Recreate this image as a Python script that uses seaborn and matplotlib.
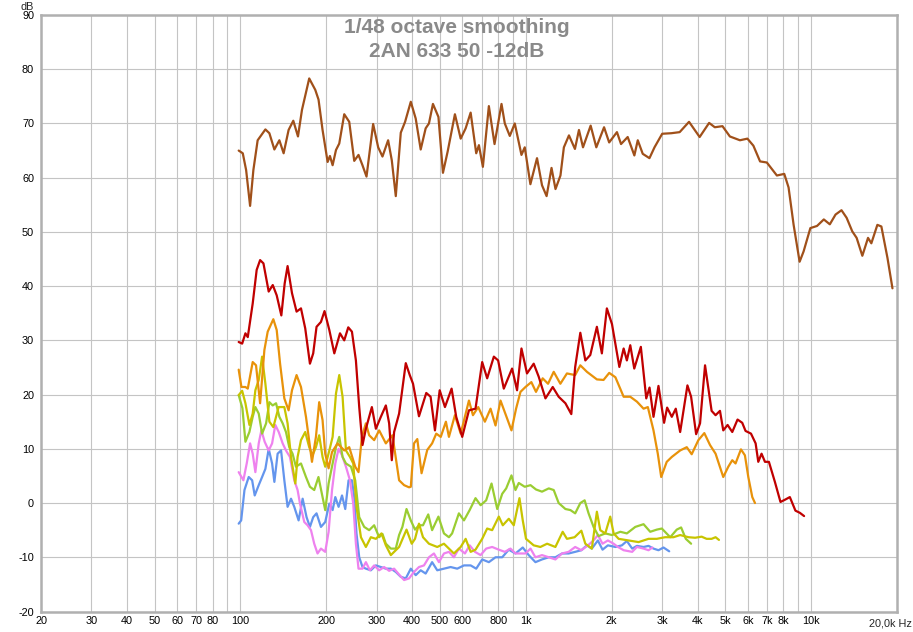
import matplotlib
matplotlib.use('Agg')
import matplotlib.pyplot as plt
import seaborn as sns
import pandas as pd
from matplotlib import font_manager
from matplotlib.ticker import NullLocator

# Traces (frequency in Hz, level in dB)
brown_hz = [98.6, 101.9, 104.7, 108.1, 111.0, 114.9, 122.3, 126.3, 131.5, 136.9, 141.7, 147.5, 153.2, 159.1,
            164.3, 174.2, 182.9, 187.8, 194.0, 202.1, 205.9, 210.4, 216.2, 222.0, 231.1, 240.6, 250.5, 259.3,
            267.7, 276.6, 291.8, 303.9, 314.6, 329.3, 339.2, 350.3, 364.7, 377.6, 395.4, 411.4, 428.3, 445.8,
            457.8, 472.8, 494.2, 512.6, 532.3, 564.5, 591.4, 615.6, 640.9, 670.4, 685.2, 707.4, 742.4, 777.2,
            822.2, 844.3, 879.0, 915.1, 965.8, 991.8, 1038, 1095, 1140, 1183, 1231, 1271, 1323, 1360, 1417,
            1487, 1536, 1587, 1688, 1767, 1881, 1960, 2087, 2157, 2276, 2402, 2469, 2570, 2713, 2826, 3007,
            3236, 3462, 3734, 4068, 4391, 4597, 4891, 5192, 5631, 5981, 6276, 6624, 6996, 7587, 8052, 8337,
            8684, 9114, 9412, 9940, 10490, 11080, 11630, 12180, 12780, 13320, 13940, 14440, 15120, 15830,
            16260, 17070, 17630, 18520, 19280]
brown_db = [65.0, 64.5, 61.4, 54.8, 61.4, 66.9, 68.9, 68.2, 65.2, 66.9, 64.5, 68.8, 70.5, 67.6, 72.5, 78.3,
            76.2, 74.4, 68.8, 62.9, 64.0, 62.3, 65.1, 66.3, 71.7, 70.3, 63.1, 64.2, 62.3, 60.2, 69.9, 65.6,
            63.9, 66.9, 63.2, 56.6, 68.3, 70.3, 74.0, 70.9, 65.2, 69.1, 70.0, 73.6, 71.2, 60.9, 64.8, 71.7,
            67.2, 69.1, 72.0, 64.5, 66.0, 62.0, 73.2, 66.2, 73.6, 70.0, 67.7, 70.0, 64.2, 65.6, 58.8, 63.6,
            58.6, 56.6, 61.8, 57.9, 60.4, 65.6, 67.8, 65.3, 68.8, 65.6, 69.6, 65.6, 69.3, 66.5, 68.4, 66.2,
            67.5, 64.1, 66.9, 64.4, 63.6, 65.6, 68.1, 68.2, 68.4, 70.3, 67.5, 70.1, 69.3, 69.5, 67.6, 66.9,
            67.2, 65.9, 63.0, 62.8, 60.4, 60.7, 58.2, 51.3, 44.5, 46.4, 50.7, 51.1, 52.3, 51.4, 53.2, 54.0,
            52.6, 50.1, 48.9, 45.6, 48.9, 47.9, 51.3, 51.0, 45.2, 39.6]

red_hz = [98.6, 101.4, 104.1, 106.1, 110.4, 114.0, 117.2, 120.4, 125.6, 129.8, 134.0, 139.1, 142.9, 146.3,
          151.6, 157.3, 163.0, 168.7, 175.2, 179.9, 184.8, 191.5, 197.1, 204.9, 213.3, 223.3, 231.1, 238.7,
          245.9, 253.9, 260.8, 267.8, 275.2, 288.8, 298.3, 310.5, 323.3, 332.0, 339.2, 345.6, 359.8, 379.7,
          392.1, 402.6, 422.4, 448.0, 463.9, 480.5, 499.2, 520.9, 549.6, 570.4, 598.8, 632.2, 666.6, 703.4,
          732.3, 772.9, 800.0, 837.5, 895.4, 932.1, 965.8, 1010, 1066, 1110, 1172, 1243, 1304, 1377, 1444,
          1490, 1553, 1617, 1683, 1775, 1848, 1924, 2005, 2128, 2203, 2261, 2324, 2400, 2531, 2644, 2715,
          2803, 2918, 3053, 3129, 3249, 3355, 3476, 3686, 3797, 3954, 4081, 4249, 4480, 4626, 4793, 4922,
          5097, 5293, 5523, 5736, 5891, 6157, 6391, 6529, 6704, 6891, 7114, 7466, 7810, 8090, 8423, 8811,
          9130, 9450]
red_db = [29.7, 29.4, 31.3, 30.6, 36.8, 43.0, 44.8, 44.2, 39.0, 40.2, 38.3, 34.6, 40.5, 43.7, 38.7, 35.3,
          35.9, 32.2, 25.7, 27.6, 32.5, 33.4, 35.4, 31.9, 27.6, 31.3, 30.0, 32.4, 31.6, 26.3, 17.7, 10.7,
          13.7, 17.7, 13.7, 15.9, 18.0, 14.7, 7.9, 13.1, 16.5, 25.8, 23.6, 22.0, 16.0, 20.3, 19.6, 13.4,
          20.8, 17.7, 21.1, 15.9, 12.2, 17.1, 17.4, 26.0, 23.0, 27.0, 26.3, 21.1, 24.8, 20.8, 28.5, 23.9,
          25.7, 23.3, 19.3, 21.4, 19.6, 18.4, 16.4, 25.1, 31.4, 26.3, 27.3, 32.5, 27.6, 35.9, 33.0, 25.1,
          28.5, 26.3, 29.1, 24.8, 28.8, 19.3, 21.3, 15.9, 21.6, 14.8, 17.6, 15.9, 17.4, 13.1, 21.7, 19.6,
          12.7, 14.7, 25.4, 17.0, 16.2, 17.0, 13.4, 14.4, 13.1, 15.4, 14.8, 13.3, 12.8, 11.0, 7.6, 9.1,
          7.6, 7.6, 3.9, 0.2, 0.6, 1.1, -1.4, -1.8, -2.4]

orange_hz = [98.6, 100.8, 104.1, 106.1, 110.4, 113.4, 117.2, 121.3, 124.6, 130.4, 134.0, 137.7, 142.5,
             147.5, 151.6, 157.3, 163.0, 169.7, 178.1, 183.9, 188.8, 194.0, 198.2, 203.7, 209.4, 219.0,
             231.1, 240.6, 252.5, 259.3, 266.4, 275.2, 282.6, 294.2, 306.3, 323.3, 341.0, 359.8, 374.6,
             389.9, 395.4, 405.8, 416.7, 431.3, 451.6, 469.6, 485.6, 503.6, 524.9, 537.9, 564.5, 591.4,
             632.2, 652.9, 681.3, 718.9, 752.6, 783.5, 815.6, 860.1, 891.0, 924.7, 958.1, 997.6, 1046, 1086,
             1146, 1197, 1253, 1322, 1394, 1490, 1553, 1638, 1775, 1873, 1961, 2061, 2203, 2324, 2452, 2587,
             2678, 2803, 2902, 2983, 3119, 3249, 3476, 3666, 3815, 4026, 4224, 4423, 4626, 4922, 5126, 5293,
             5435, 5677, 5862, 6024, 6221, 6358]
orange_db = [24.6, 21.4, 21.4, 21.1, 26.0, 25.4, 18.4, 28.2, 31.6, 33.9, 31.9, 25.7, 19.3, 17.1, 20.8,
             23.6, 21.4, 15.9, 7.6, 12.2, 18.6, 15.3, 9.1, 6.4, 9.4, 11.0, 9.7, 10.3, 6.7, 5.7, 12.2, 14.7,
             12.5, 11.6, 13.4, 11.0, 12.5, 4.2, 3.3, 2.9, 3.0, 11.0, 11.8, 5.5, 9.8, 11.0, 12.8, 12.2, 15.0,
             12.2, 16.2, 12.8, 18.9, 16.2, 17.7, 15.0, 17.4, 14.3, 18.9, 15.6, 13.4, 17.4, 20.5, 21.4, 22.3,
             20.5, 23.0, 22.0, 24.2, 22.0, 23.9, 23.6, 25.4, 24.2, 22.8, 22.7, 24.0, 23.2, 19.6, 19.6, 18.7,
             17.4, 17.7, 13.4, 9.1, 4.8, 7.6, 8.5, 9.7, 10.3, 9.0, 11.6, 12.9, 10.7, 9.1, 4.8, 6.7, 7.9, 7.3,
             9.9, 8.8, 4.8, 1.1, 0.0]

yellow_hz = [98.6, 101.4, 104.1, 107.5, 110.4, 112.8, 115.9, 119.1, 122.3, 126.3, 130.4, 136.1, 142.5,
             146.3, 150.4, 155.7, 158.6, 163.0, 168.7, 174.2, 178.9, 183.9, 188.8, 194.0, 198.2, 204.9,
             210.4, 216.2, 222.0, 228.0, 234.3, 242.0, 248.5, 255.1, 264.4, 275.2, 286.5, 298.3, 312.1,
             323.3, 336.6, 350.3, 359.8, 382.0, 398.4, 409.1, 422.4, 436.3, 457.8, 489.5, 516.7, 537.9,
             559.9, 591.4, 615.6, 640.9, 666.6, 703.4, 732.3, 762.4, 804.5, 830.8, 871.9, 907.7, 950.4,
             976.0, 1002, 1066, 1125, 1188, 1270, 1347, 1394, 1483, 1566, 1617, 1704, 1775, 1824, 1899,
             1977, 2032, 2116, 2293, 2485, 2693, 2879, 3078, 3293, 3476, 3716, 3922, 4134, 4303, 4480, 4626,
             4754]
yellow_db = [19.9, 20.7, 18.4, 14.4, 16.5, 20.8, 22.7, 27.0, 22.0, 15.0, 14.0, 17.7, 17.7, 14.7, 8.5, 3.6,
             8.5, 11.6, 13.1, 10.3, 8.8, 10.3, 12.5, 8.5, 6.7, 9.7, 12.2, 20.2, 23.6, 19.6, 9.7, 8.5, 7.3,
             -0.7, -6.3, -8.1, -6.3, -6.6, -5.6, -7.8, -9.6, -8.7, -8.1, -4.9, -7.5, -6.6, -3.8, -6.3, -7.5,
             -8.1, -7.5, -8.4, -9.3, -8.1, -6.6, -9.0, -8.6, -6.6, -4.7, -5.0, -2.5, -4.1, -2.9, -4.1, 0.9,
             -3.2, -6.6, -7.8, -8.1, -7.5, -8.1, -5.3, -6.6, -6.3, -5.1, -7.5, -8.4, -1.6, -5.0, -5.6, -2.5,
             -5.6, -6.6, -6.9, -7.2, -6.6, -6.6, -6.3, -6.3, -5.9, -6.3, -6.4, -6.2, -6.6, -6.6, -6.3, -6.8]

green_hz = [98.6, 101.6, 104.1, 107.5, 110.4, 112.8, 115.9, 119.1, 123.0, 126.3, 129.7, 133.3, 136.9,
            140.6, 144.4, 148.3, 152.3, 156.5, 163.0, 169.7, 175.2, 181.4, 187.7, 194.0, 198.2, 203.7,
            210.4, 216.2, 222.0, 228.0, 234.3, 244.0, 252.5, 260.8, 271.5, 282.6, 294.2, 306.3, 314.6,
            323.3, 336.6, 350.3, 359.8, 369.5, 382.0, 395.4, 409.1, 422.4, 436.3, 455.2, 469.6, 494.2,
            516.7, 537.9, 551.9, 582.9, 607.3, 635.8, 666.6, 694.6, 726.4, 758.6, 794.3, 826.8, 853.8,
            891.0, 920.2, 945.0, 991.8, 1039, 1086, 1140, 1204, 1253, 1304, 1377, 1434, 1490, 1553, 1608,
            1660, 1728, 1799, 1899, 2005, 2145, 2261, 2420, 2587, 2730, 2879, 2998, 3208, 3382, 3503, 3638,
            3797]
green_db = [19.9, 17.5, 11.3, 13.1, 15.9, 17.7, 16.5, 12.8, 14.7, 18.6, 18.0, 18.4, 15.9, 14.7, 13.1, 10.3,
            9.1, 6.7, 7.3, 4.8, 3.0, 2.4, 4.8, 1.1, -1.3, 3.6, 7.3, 10.3, 12.2, 8.5, 7.3, 6.7, 4.2, -2.6,
            -4.4, -5.0, -4.1, -6.3, -5.7, -7.5, -8.4, -8.4, -5.9, -4.4, -1.1, -3.2, -4.9, -4.1, -4.1, -2.1,
            -5.0, -2.5, -5.6, -6.3, -5.6, -1.9, -3.2, -1.3, 0.9, -0.4, 0.5, 3.6, -1.1, 1.7, 2.7, 5.1, 2.4,
            3.7, 3.0, 3.3, 2.5, 2.1, 2.7, 2.4, 0.0, -1.1, -1.3, -1.9, 0.0, 0.5, -1.9, -4.4, -6.1, -5.6, -5.9,
            -5.3, -5.6, -4.4, -3.9, -5.3, -4.9, -4.7, -6.3, -4.9, -4.5, -6.6, -7.5]

pink_hz = [98.6, 102.4, 105.2, 108.1, 110.4, 112.8, 115.9, 118.4, 121.6, 125.6, 129.1, 132.5, 136.2, 140.6,
           144.4, 149.1, 154.4, 158.6, 161.7, 167.4, 171.9, 176.7, 181.4, 186.3, 191.5, 198.2, 203.7, 209.4,
           215.0, 220.8, 227.0, 234.3, 242.0, 248.5, 253.9, 259.3, 267.8, 275.2, 284.2, 294.2, 306.3, 318.9,
           332.0, 345.6, 359.8, 374.6, 389.9, 405.8, 422.4, 439.8, 457.8, 476.6, 496.2, 516.7, 537.9, 559.9,
           582.9, 612.2, 635.8, 663.5, 694.6, 726.4, 762.4, 804.5, 844.3, 884.0, 920.2, 958.1, 997.6, 1039,
           1081, 1140, 1204, 1270, 1340, 1413, 1490, 1566, 1651, 1728, 1789, 1858, 1940, 2032, 2104, 2203,
           2360, 2452, 2587, 2693, 2779]
pink_db = [5.7, 4.2, 7.3, 11.0, 9.1, 5.7, 11.0, 13.4, 11.3, 9.7, 11.0, 14.4, 13.1, 11.0, 9.7, 8.5, 4.2, 2.4,
           -0.1, -3.5, -4.1, -5.0, -7.5, -9.3, -8.4, -9.0, -5.3, 2.4, 7.3, 10.0, 8.8, 6.7, 4.2, -0.1, -7.5,
           -12.1, -12.1, -10.9, -12.4, -11.5, -12.4, -11.8, -12.5, -12.1, -13.2, -14.2, -13.9, -12.7, -11.8,
           -11.5, -10.0, -9.3, -10.9, -9.3, -9.0, -10.0, -8.4, -9.3, -7.8, -9.0, -9.6, -8.4, -8.1, -8.6,
           -9.0, -8.4, -9.3, -9.3, -9.3, -8.4, -10.0, -9.6, -10.0, -10.4, -9.3, -9.0, -8.1, -8.7, -7.8, -6.9,
           -5.9, -7.5, -6.9, -7.5, -8.1, -8.7, -9.0, -8.1, -8.4, -8.7, -8.2]

blue_hz = [98.6, 100.6, 103.3, 106.9, 109.9, 112.2, 115.9, 119.1, 122.3, 125.6, 129.1, 131.5, 135.0, 138.8,
           142.5, 146.3, 150.4, 154.4, 159.9, 165.2, 170.5, 175.2, 179.9, 184.8, 191.5, 198.2, 204.9, 210.4,
           215.0, 220.8, 227.0, 233.0, 239.3, 245.9, 250.5, 255.1, 260.8, 267.8, 275.2, 286.5, 298.3, 310.5,
           323.3, 336.6, 350.3, 364.7, 379.7, 395.4, 411.4, 428.3, 445.8, 469.6, 489.5, 516.7, 545.3, 575.2,
           607.3, 640.9, 670.4, 703.4, 742.4, 783.5, 826.8, 871.9, 920.2, 976.0, 1024, 1081, 1140, 1204,
           1270, 1340, 1413, 1490, 1566, 1638, 1704, 1789, 1858, 1940, 2061, 2172, 2261, 2360, 2452, 2587,
           2693, 2803, 2918, 3039, 3182]
blue_db = [-3.8, -3.2, 2.4, 4.8, 4.2, 1.4, 3.3, 4.8, 6.3, 10.0, 7.3, 3.9, 9.1, 9.7, 4.2, -0.7, 0.8, -0.7,
           -3.2, 0.8, -2.6, -4.4, -2.6, -1.9, -4.4, -3.5, -0.1, -1.3, 1.1, -0.7, 1.4, -1.1, 4.2, 4.2, 1.1,
           -5.6, -10.0, -11.8, -12.1, -12.4, -11.5, -11.8, -12.1, -12.1, -12.7, -13.6, -13.9, -12.1, -13.3,
           -12.4, -13.0, -10.9, -12.4, -12.1, -11.8, -12.1, -11.5, -11.5, -12.1, -10.4, -10.9, -10.0, -10.0,
           -8.6, -9.3, -8.2, -9.6, -10.9, -10.4, -10.0, -10.0, -9.3, -9.3, -9.0, -8.7, -7.8, -8.4, -6.9,
           -8.6, -7.8, -8.1, -7.8, -7.0, -8.4, -7.9, -8.1, -7.9, -8.4, -8.7, -8.2, -8.9]

# axis ticks
grid_hz = [20, 30, 40, 50, 60, 70, 80, 90, 100, 200, 300, 400, 500, 600, 700, 800, 900,
           1000, 2000, 3000, 4000, 5000, 6000, 7000, 8000, 9000, 10000]
grid_labels = ['20', '30', '40', '50', '60', '70', '80', '', '100', '200', '300', '400', '500', '600', '',
               '800', '', '1k', '2k', '3k', '4k', '5k', '6k', '7k', '8k', '', '10k']
db_ticks = list(range(-20, 91, 10))

trace_order = ['blue', 'pink', 'green', 'yellow', 'orange', 'red', 'brown']
trace_colors = {'blue': '#6495ed', 'pink': '#ee82ee', 'green': '#9acd32', 'yellow': '#c8c400',
                'orange': '#e8920a', 'red': '#c00000', 'brown': '#a0501a'}
trace_data = {'blue': (blue_hz, blue_db), 'pink': (pink_hz, pink_db), 'green': (green_hz, green_db),
              'yellow': (yellow_hz, yellow_db), 'orange': (orange_hz, orange_db),
              'red': (red_hz, red_db), 'brown': (brown_hz, brown_db)}

df = pd.concat([pd.DataFrame({'hz': trace_data[k][0], 'db': trace_data[k][1], 'trace': k})
                for k in trace_order], ignore_index=True)

sns.set_style('white')
names = {f.name for f in font_manager.fontManager.ttflist}
main_font = 'Liberation Sans' if 'Liberation Sans' in names else 'DejaVu Sans'
plt.rcParams['font.family'] = [main_font, 'DejaVu Sans']

fig = plt.figure(figsize=(9.13, 6.32), dpi=100)
ax = fig.add_axes([41 / 913, 1 - 611.5 / 632, (897 - 41) / 913, (611.5 - 15) / 632])

sns.lineplot(data=df, x='hz', y='db', hue='trace', hue_order=trace_order, palette=trace_colors,
             estimator=None, sort=False, legend=False, linewidth=1.6, ax=ax,
             solid_joinstyle='round', solid_capstyle='round')

ax.set_xscale('log')
ax.set_xlim(20, 20000)
ax.set_ylim(-20, 90)
ax.set_xticks(grid_hz)
ax.set_xticklabels(grid_labels)
ax.xaxis.set_minor_locator(NullLocator())
ax.set_yticks(db_ticks)
ax.set_yticklabels([str(v) for v in db_ticks])
ax.set_xlabel('')
ax.set_ylabel('')
ax.grid(True, color='#c4c4c4', linewidth=0.8)
ax.set_axisbelow(True)
ax.tick_params(axis='both', length=0, labelsize=7.8, colors='black')
ax.tick_params(axis='x', pad=3)
ax.tick_params(axis='y', pad=5)
for sp in ax.spines.values():
    sp.set_color('#b0b0b0')
    sp.set_linewidth(1.8)

# titles and unit labels
fig.text(0.5, 1 - 33.3 / 632, '1/48 octave smoothing', ha='center', va='baseline',
         fontsize=15, fontweight='bold', color='#8a8a8a')
fig.text(0.5, 1 - 56.7 / 632, '2AN 633 50 -12dB', ha='center', va='baseline',
         fontsize=15, fontweight='bold', color='#8a8a8a')
fig.text(34 / 913, 1 - 10 / 632, 'dB', ha='right', va='baseline', fontsize=7.8)
fig.text(912 / 913, 1 - 626 / 632, '20,0k Hz', ha='right', va='baseline', fontsize=7.8)

fig.savefig('out.png', dpi=100)
